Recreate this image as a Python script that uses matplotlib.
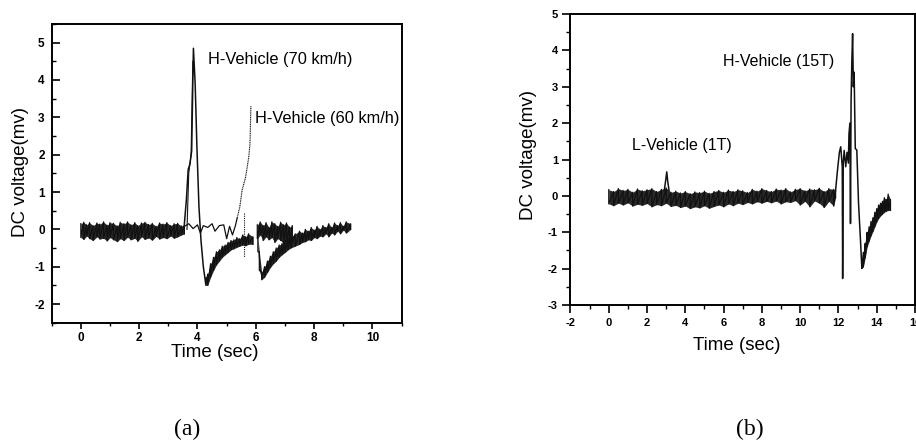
import matplotlib
matplotlib.use('Agg')
import matplotlib.pyplot as plt
from matplotlib.ticker import MultipleLocator

plt.rcParams['font.family'] = ['Liberation Sans', 'DejaVu Sans']
plt.rcParams['axes.unicode_minus'] = False

## (a) two heavy vehicles, 70 and 60 km/h
# noisy baseline where both records overlap (upper / lower edge of the band)
a_base_t = [0.0, 0.1, 0.2, 0.3, 0.42, 0.55, 0.65, 0.78, 0.9, 1.0, 1.12, 1.25, 1.35, 1.48, 1.6, 1.72,
            1.85, 1.95, 2.08, 2.2, 2.32, 2.45, 2.58, 2.7, 2.82, 2.95, 3.08, 3.2, 3.32, 3.45, 3.55]
a_base_hi = [0.15, 0.19, 0.12, 0.18, 0.1, 0.17, 0.14, 0.2, 0.11, 0.18, 0.16, 0.09, 0.19, 0.15, 0.2, 0.12,
             0.18, 0.1, 0.17, 0.19, 0.13, 0.16, 0.08, 0.17, 0.14, 0.18, 0.1, 0.15, 0.16, 0.09, 0.13]
a_base_lo = [-0.22, -0.27, -0.18, -0.25, -0.3, -0.2, -0.26, -0.24, -0.31, -0.22, -0.28, -0.33, -0.25, -0.3, -0.21, -0.28,
             -0.24, -0.32, -0.2, -0.27, -0.23, -0.29, -0.19, -0.26, -0.22, -0.25, -0.18, -0.24, -0.2, -0.15, -0.12]

# 70 km/h: sharp peak then negative dip and slow recovery
a70_spk_t = [3.55, 3.62, 3.68, 3.74, 3.8, 3.86, 3.92, 3.98, 4.05, 4.12, 4.2, 4.28]
a70_spk_v = [0.15, 0.8, 1.6, 1.75, 2.1, 4.85, 3.9, 2.2, 0.6, -0.3, -1.0, -1.45]
a70_in_t = [3.64, 3.7, 3.78, 3.84]
a70_in_v = [0.0, 1.5, 2.0, 4.5]
a70_rec_t = [4.28, 4.35, 4.45, 4.55, 4.65, 4.75, 4.85, 4.95, 5.05, 5.15, 5.25, 5.35, 5.45, 5.55, 5.65, 5.75, 5.9]
a70_rec_hi = [-1.3, -1.2, -0.92, -0.75, -0.6, -0.55, -0.45, -0.42, -0.35, -0.3, -0.28, -0.22, -0.25, -0.15, -0.2, -0.12, -0.2]
a70_rec_lo = [-1.5, -1.5, -1.28, -1.1, -0.95, -0.85, -0.75, -0.68, -0.62, -0.55, -0.52, -0.48, -0.45, -0.42, -0.44, -0.4, -0.4]
a70_tail_t = [6.05, 6.15, 6.25, 6.35, 6.45, 6.55, 6.65, 6.75, 6.85, 6.95, 7.05, 7.15, 7.25]
a70_tail_hi = [0.12, 0.2, 0.1, 0.18, 0.05, 0.2, 0.15, 0.08, 0.19, 0.12, 0.17, 0.06, 0.1]
a70_tail_lo = [-0.25, -0.15, -0.3, -0.2, -0.28, -0.22, -0.35, -0.25, -0.3, -0.38, -0.3, -0.35, -0.3]

# 60 km/h: quiet baseline, later peak, dip and recovery
a60_mid_t = [3.55, 3.7, 3.85, 4.0, 4.1, 4.2, 4.35, 4.5, 4.6, 4.75, 4.9, 5.0, 5.1, 5.2, 5.3, 5.36]
a60_mid_v = [0.08, 0.15, 0.02, 0.12, -0.1, 0.1, 0.05, 0.15, -0.05, 0.1, 0.12, -0.25, 0.08, -0.15, 0.1, 0.3]
a60_spk_t = [5.36, 5.45, 5.53, 5.65, 5.76, 5.8, 5.83]
a60_spk_v = [0.3, 0.6, 1.05, 1.4, 1.95, 2.3, 3.3]
a60_dot_t = [5.58, 5.58]
a60_dot_v = [0.44, -0.73]
a60_rec_t = [6.07, 6.12, 6.2, 6.3, 6.4, 6.5, 6.6, 6.7, 6.8, 6.9, 7.0, 7.1, 7.2, 7.35, 7.5, 7.6,
             7.7, 7.8, 7.9, 8.0, 8.1, 8.2, 8.3, 8.4, 8.5, 8.6, 8.7, 8.8, 8.9, 9.0, 9.1, 9.25]
a60_rec_hi = [-0.2, -0.6, -1.15, -1.0, -0.85, -0.72, -0.6, -0.5, -0.42, -0.38, -0.3, -0.25, -0.2, -0.12, -0.05, -0.1,
              0.0, -0.05, 0.05, -0.02, 0.08, 0.0, 0.1, 0.05, 0.15, 0.05, 0.17, 0.1, 0.18, 0.08, 0.2, 0.15]
a60_rec_lo = [-0.6, -1.1, -1.35, -1.28, -1.15, -1.02, -0.92, -0.85, -0.75, -0.68, -0.62, -0.55, -0.5, -0.45, -0.4, -0.35,
              -0.33, -0.28, -0.3, -0.22, -0.25, -0.18, -0.2, -0.12, -0.2, -0.1, -0.15, -0.05, -0.12, -0.02, -0.1, 0.0]

## (b) light (1T) and heavy (15T) vehicle
b_base_t = [0.0, 0.25, 0.5, 0.75, 1.0, 1.25, 1.5, 1.75, 2.0, 2.25, 2.5, 2.75, 3.0, 3.25, 3.5, 3.75,
            4.0, 4.25, 4.5, 4.75, 5.0, 5.25, 5.5, 5.75, 6.0, 6.25, 6.5, 6.75, 7.0, 7.25, 7.5, 7.75,
            8.0, 8.25, 8.5, 8.75, 9.0, 9.25, 9.5, 9.75, 10.0, 10.25, 10.5, 10.75, 11.0, 11.25, 11.5, 11.75, 11.85]
b_base_hi = [0.17, 0.12, 0.2, 0.15, 0.18, 0.1, 0.19, 0.14, 0.17, 0.2, 0.12, 0.18, 0.22, 0.1, 0.13, 0.08,
             0.12, 0.06, 0.11, 0.09, 0.13, 0.07, 0.12, 0.15, 0.1, 0.16, 0.12, 0.17, 0.14, 0.09, 0.18, 0.13,
             0.2, 0.15, 0.12, 0.19, 0.16, 0.2, 0.11, 0.18, 0.2, 0.14, 0.19, 0.17, 0.21, 0.12, 0.2, 0.18, 0.15]
b_base_lo = [-0.22, -0.27, -0.2, -0.25, -0.19, -0.28, -0.23, -0.26, -0.21, -0.3, -0.24, -0.27, -0.2, -0.29, -0.26, -0.32,
             -0.28, -0.35, -0.3, -0.33, -0.27, -0.34, -0.29, -0.25, -0.3, -0.22, -0.27, -0.2, -0.24, -0.18, -0.22, -0.16,
             -0.2, -0.15, -0.19, -0.14, -0.22, -0.16, -0.18, -0.13, -0.25, -0.15, -0.3, -0.14, -0.2, -0.32, -0.15, -0.28, -0.05]
b_l_t = [2.9, 2.98, 3.03, 3.08, 3.15]
b_l_v = [0.15, 0.45, 0.66, 0.4, 0.15]
b_h_t = [11.85, 11.95, 12.05, 12.12, 12.2, 12.22, 12.25, 12.3, 12.38, 12.45, 12.52, 12.55,
         12.6, 12.63, 12.66, 12.7, 12.74, 12.78, 12.82, 12.88, 12.96, 13.05, 13.15, 13.22]
b_h_v = [0.15, 0.7, 1.2, 1.35, 0.8, -2.27, 0.9, 1.25, 0.8, 1.2, 0.9, 1.7,
         2.0, -0.76, 2.6, 3.7, 4.46, 3.0, 3.4, 1.3, 1.26, -0.2, -1.2, -1.95]
b_rec_t = [13.22, 13.3, 13.4, 13.5, 13.6, 13.7, 13.8, 13.9, 14.0, 14.1, 14.2, 14.3, 14.4, 14.5, 14.6, 14.72]
b_rec_hi = [-1.75, -1.55, -1.3, -1.0, -0.85, -0.7, -0.6, -0.45, -0.35, -0.25, -0.2, -0.15, -0.05, -0.1, 0.05, -0.1]
b_rec_lo = [-2.0, -1.95, -1.7, -1.4, -1.25, -1.1, -0.98, -0.85, -0.72, -0.62, -0.55, -0.5, -0.45, -0.42, -0.4, -0.4]

ink = '#111111'


def noise_band(ax, t, lo, hi):
    # dark band plus a stroke at every read-off point, so the edges look like scope noise
    ax.fill_between(t, lo, hi, color=ink, lw=0, alpha=0.9)
    xs, ys = [], []
    for ti, l, h in zip(t, lo, hi):
        xs += [ti, ti]
        ys += [h, l]
    ax.plot(xs, ys, color=ink, lw=0.9)


fig = plt.figure(figsize=(9.16, 4.46), dpi=100)
ax1 = fig.add_axes([0.0564, 0.2765, 0.3821, 0.6697])
ax2 = fig.add_axes([0.6228, 0.3161, 0.3761, 0.6525])

# ---- (a)
noise_band(ax1, a_base_t, a_base_lo, a_base_hi)
ax1.plot(a60_mid_t, a60_mid_v, color=ink, lw=0.9)
ax1.plot(a70_spk_t, a70_spk_v, color=ink, lw=1.1)
ax1.plot(a70_in_t, a70_in_v, color=ink, lw=0.8)
noise_band(ax1, a70_rec_t, a70_rec_lo, a70_rec_hi)
noise_band(ax1, a70_tail_t, a70_tail_lo, a70_tail_hi)
ax1.plot(a60_spk_t, a60_spk_v, color=ink, lw=0.8, ls=(0, (1, 0.6)))
ax1.plot(a60_dot_t, a60_dot_v, color=ink, lw=0.8, ls=(0, (1, 1)))
noise_band(ax1, a60_rec_t, a60_rec_lo, a60_rec_hi)

ax1.set_xlim(-1, 11)
ax1.set_ylim(-2.5, 5.5)
ax1.xaxis.set_major_locator(MultipleLocator(2))
ax1.xaxis.set_minor_locator(MultipleLocator(1))
ax1.yaxis.set_minor_locator(MultipleLocator(0.5))
ax1.set_yticks([-2, -1, 0, 1, 2, 3, 4, 5])
ax1.tick_params(axis='y', which='major', direction='in', length=6, width=1.2, labelsize=8.5, pad=5)
ax1.tick_params(axis='y', which='minor', direction='in', length=3, width=1.0)
ax1.tick_params(axis='x', which='major', direction='out', length=4, width=1.2, labelsize=8.5, pad=3)
ax1.tick_params(axis='x', which='minor', direction='out', length=2, width=1.0)
for lab in ax1.get_xticklabels() + ax1.get_yticklabels():
    lab.set_fontweight('bold')
for s in ax1.spines.values():
    s.set_linewidth(1.4)

ax1.set_ylabel('DC voltage(mv)', fontsize=13.5)
ax1.yaxis.label.set_va('center')
ax1.yaxis.set_label_coords(-0.09, 0.505)
ax1.set_xlabel('Time (sec)', fontsize=13.5)
ax1.xaxis.set_label_coords(0.467, -0.07)

ax1.text(4.37, 4.55, 'H-Vehicle (70 km/h)', fontsize=11.8, va='center')
ax1.text(5.96, 2.97, 'H-Vehicle (60 km/h)', fontsize=11.8, va='center')

# ---- (b)
noise_band(ax2, b_base_t, b_base_lo, b_base_hi)
ax2.plot(b_l_t, b_l_v, color=ink, lw=1.1)
ax2.plot(b_h_t, b_h_v, color=ink, lw=1.1)
noise_band(ax2, b_rec_t, b_rec_lo, b_rec_hi)

ax2.set_xlim(-2, 16)
ax2.set_ylim(-3, 5)
ax2.xaxis.set_major_locator(MultipleLocator(2))
ax2.xaxis.set_minor_locator(MultipleLocator(1))
ax2.yaxis.set_major_locator(MultipleLocator(1))
ax2.yaxis.set_minor_locator(MultipleLocator(0.5))
ax2.tick_params(which='major', direction='out', length=6, width=1.2, labelsize=8, pad=3)
ax2.tick_params(which='minor', direction='out', length=3, width=1.0)
for lab in ax2.get_xticklabels() + ax2.get_yticklabels():
    lab.set_fontweight('bold')
for s in ax2.spines.values():
    s.set_linewidth(1.4)

ax2.set_ylabel('DC voltage(mv)', fontsize=13.5)
ax2.yaxis.label.set_va('center')
ax2.yaxis.set_label_coords(-0.122, 0.515)
ax2.set_xlabel('Time (sec)', fontsize=13.5)
ax2.xaxis.set_label_coords(0.483, -0.11)

ax2.text(5.97, 3.70, 'H-Vehicle (15T)', fontsize=11.5, va='center')
ax2.text(1.24, 1.38, 'L-Vehicle (1T)', fontsize=11.5, va='center')

# captions
fig.text(187 / 916, 1 - 429 / 446, '(a)', family='Liberation Serif', fontsize=17, ha='center', va='center')
fig.text(750 / 916, 1 - 429 / 446, '(b)', family='Liberation Serif', fontsize=17, ha='center', va='center')

fig.savefig('out.png', dpi=100)
